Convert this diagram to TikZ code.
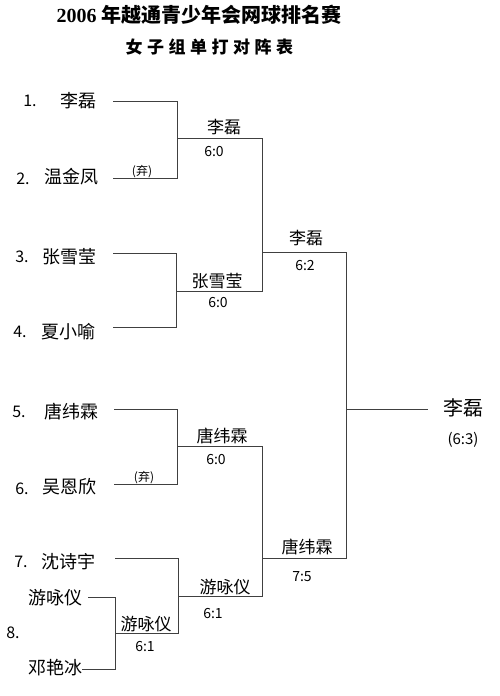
\documentclass[tikz,border=0pt]{standalone}
\usepackage{fontspec}
\setmainfont{Liberation Serif}
\newfontfamily\cjk{Noto Sans CJK SC}
\tikzset{
  ln/.style={draw=black!75, line width=0.8pt},
  nm/.style={inner sep=0pt, font=\cjk\fontsize{18}{18}\selectfont},
  wn/.style={inner sep=0pt, font=\cjk\fontsize{17}{17}\selectfont},
  sc/.style={inner sep=0pt, font=\cjk\fontsize{14}{14}\selectfont},
  num/.style={inner sep=0pt, font=\cjk\fontsize{16}{16}\selectfont},
  qt/.style={inner sep=0pt, font=\cjk\fontsize{12}{12}\selectfont},
  subc/.style={inner sep=0pt, font=\cjk\bfseries\fontsize{17}{17}\selectfont},
}
\begin{document}
\begin{tikzpicture}[x=1pt,y=-1pt]
\useasboundingbox (0,0) rectangle (500,696);
\fill[white] (0,0) rectangle (500,696);
% titles
\node[inner sep=0pt, font=\bfseries\fontsize{20}{20}\selectfont] (title) at (199,15) {2006 {\cjk\bfseries 年越通青少年会网球排名赛}};
\node[subc] (sub0) at (134,47) {女};
\node[subc] (sub1) at (155.5,47) {子};
\node[subc] (sub2) at (177,47) {组};
\node[subc] (sub3) at (198.5,47) {单};
\node[subc] (sub4) at (220,47) {打};
\node[subc] (sub5) at (241.5,47) {对};
\node[subc] (sub6) at (263,47) {阵};
\node[subc] (sub7) at (284.5,47) {表};
% bracket coordinates
\coordinate (a1) at (113,101); \coordinate (b1) at (177,101);
\coordinate (a2) at (113,178); \coordinate (b2) at (177,178);
\coordinate (a3) at (113,253); \coordinate (b3) at (176,253);
\coordinate (a4) at (113,327); \coordinate (b4) at (176,327);
\coordinate (a5) at (114,409); \coordinate (b5) at (177,409);
\coordinate (a6) at (114,484); \coordinate (b6) at (177,484);
\coordinate (a7) at (115,558); \coordinate (b7) at (178,558);
\coordinate (a8) at (88,597);  \coordinate (b8) at (115,597);
\coordinate (a9) at (82,669);  \coordinate (b9) at (115,669);
\coordinate (s1) at (115,633); \coordinate (s2) at (178,633);
\coordinate (r1a) at (177,138); \coordinate (r1b) at (262,138);
\coordinate (r2a) at (176,291); \coordinate (r2b) at (262,291);
\coordinate (r3a) at (177,446); \coordinate (r3b) at (262,446);
\coordinate (r4a) at (178,596); \coordinate (r4b) at (262,596);
\coordinate (q1a) at (262,252); \coordinate (q1b) at (346,252);
\coordinate (q2a) at (262,558); \coordinate (q2b) at (346,558);
\coordinate (fa) at (346,409); \coordinate (fb) at (428,409);
% lines
\draw[ln] (a1) -- (b1) -- (b2) -- (a2);
\draw[ln] (a3) -- (b3) -- (b4) -- (a4);
\draw[ln] (a5) -- (b5) -- (b6) -- (a6);
\draw[ln] (a7) -- (b7) -- (s2) -- (s1);
\draw[ln] (a8) -- (b8) -- (b9) -- (a9);
\draw[ln] (r1a) -- (r1b) -- (r2b) -- (r2a);
\draw[ln] (r3a) -- (r3b) -- (r4b) -- (r4a);
\draw[ln] (q1a) -- (q1b) -- (q2b) -- (q2a);
\draw[ln] (fa) -- (fb);
% players
\node[num] (k1) at (30,101) {1.};
\node[nm]  (p1) at (78,101) {李磊};
\node[num] (k2) at (23,179) {2.};
\node[nm]  (p2) at (71,177) {温金凤};
\node[num] (k3) at (22,257) {3.};
\node[nm]  (p3) at (69,257) {张雪莹};
\node[num] (k4) at (20,332) {4.};
\node[nm]  (p4) at (68,332) {夏小喻};
\node[num] (k5) at (19,412) {5.};
\node[nm]  (p5) at (71,412) {唐纬霖};
\node[num] (k6) at (22,489) {6.};
\node[nm]  (p6) at (69,487) {吴恩欣};
\node[num] (k7) at (21,562) {7.};
\node[nm]  (p7) at (68,562) {沈诗宇};
\node[num] (k8) at (13,633) {8.};
\node[nm]  (p8) at (55,598) {游咏仪};
\node[nm]  (p9) at (55,668) {邓艳冰};
\node[qt] (w2) at (142,172) {(弃)};
\node[qt] (w6) at (144,478) {(弃)};
% round winners
\node[wn] (m1) at (224,127) {李磊};
\node[sc] (c1) at (214,152) {6:0};
\node[wn] (m2) at (217,281) {张雪莹};
\node[sc] (c2) at (218,303) {6:0};
\node[wn] (m3) at (222,436) {唐纬霖};
\node[sc] (c3) at (216,460) {6:0};
\node[wn] (m4) at (146,624) {游咏仪};
\node[sc] (c4) at (145,647) {6:1};
\node[wn] (m5) at (225,587) {游咏仪};
\node[sc] (c5) at (213,614) {6:1};
\node[wn] (m6) at (306,238) {李磊};
\node[sc] (c6) at (305,266) {6:2};
\node[wn] (m7) at (307,547) {唐纬霖};
\node[sc] (c7) at (302,577) {7:5};
\node[wn, font=\cjk\fontsize{20}{20}\selectfont] (ch) at (463,408) {李磊};
\node[inner sep=0pt, font=\cjk\fontsize{15}{15}\selectfont] (cf) at (463,440) {(6:3)};
\end{tikzpicture}
\end{document}
